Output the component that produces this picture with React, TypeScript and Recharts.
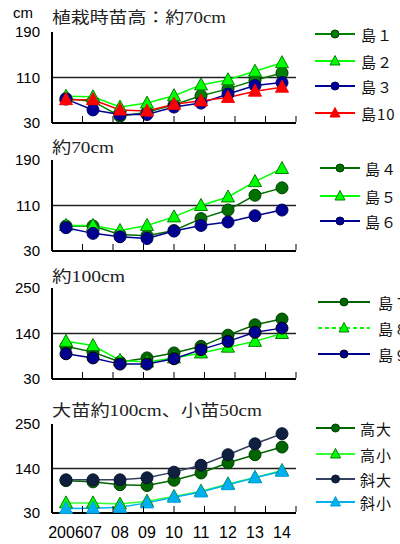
import React from 'react';
import { LineChart, Line, XAxis, YAxis, ReferenceLine, ReferenceArea } from 'recharts';

const years = ['2006', '07', '08', '09', '10', '11', '12', '13', '14'];
const boundaryTicks = [1, 2, 3, 4, 5, 6, 7, 8];

const ticksSmall = [30, 110, 190];
const ticksLarge = [30, 140, 250];

// 植栽時苗高：約70cm
const shima1 = [73, 68, 42, 49, 62, 78, 90, 105, 118];
const shima2 = [77, 76, 58, 65, 78, 97, 106, 121, 136];
const shima3 = [72, 53, 45, 45, 58, 65, 81, 96, 101];
const shima10 = [71, 71, 53, 51, 63, 69, 75, 86, 93];

// 約70cm
const shima4 = [74, 74, 59, 57, 66, 87, 102, 128, 141];
const shima5 = [75, 75, 66, 75, 90, 110, 125, 152, 175];
const shima6 = [71, 61, 55, 52, 65, 75, 81, 92, 102];

// 約100cm
const shima7 = [109, 95, 71, 81, 93, 109, 136, 161, 175];
const shima8 = [121, 111, 75, 71, 81, 93, 107, 121, 140];
const shima9 = [91, 81, 66, 66, 79, 101, 121, 143, 153];

// 大苗約100cm、小苗50cm
const takaDai = [110, 107, 100, 98, 111, 129, 154, 174, 193];
const takaSho = [55, 55, 52, 59, 71, 84, 102, 118, 135];
const nanameDai = [112, 112, 112, 117, 131, 148, 174, 201, 226];
const nanameSho = [41, 42, 44, 55, 69, 82, 100, 117, 133];

type Series = {
  key: string;
  name: string;
  values: number[];
  line: string;
  fill: string;
  stroke: string;
  shape: 'circle' | 'triangle';
  dashed?: boolean;
};

const panel1: Series[] = [
  { key: 's1', name: '島１', values: shima1, line: '#008000', fill: '#008000', stroke: '#003300', shape: 'circle' },
  { key: 's2', name: '島２', values: shima2, line: '#00ff00', fill: '#00ff00', stroke: '#008000', shape: 'triangle' },
  { key: 's3', name: '島３', values: shima3, line: '#000099', fill: '#000099', stroke: '#000066', shape: 'circle' },
  { key: 's10', name: '島10', values: shima10, line: '#ff0000', fill: '#ff0000', stroke: '#ff0000', shape: 'triangle' },
];
const panel2: Series[] = [
  { key: 's4', name: '島４', values: shima4, line: '#007000', fill: '#007000', stroke: '#004000', shape: 'circle' },
  { key: 's5', name: '島５', values: shima5, line: '#00ff00', fill: '#00ff00', stroke: '#008000', shape: 'triangle' },
  { key: 's6', name: '島６', values: shima6, line: '#000090', fill: '#000090', stroke: '#000060', shape: 'circle' },
];
const panel3: Series[] = [
  { key: 's7', name: '島７', values: shima7, line: '#006400', fill: '#006400', stroke: '#004000', shape: 'circle' },
  { key: 's8', name: '島８', values: shima8, line: '#00ff00', fill: '#00ff00', stroke: '#008000', shape: 'triangle', dashed: true },
  { key: 's9', name: '島９', values: shima9, line: '#000090', fill: '#000090', stroke: '#000000', shape: 'circle' },
];
const panel4: Series[] = [
  { key: 'td', name: '高大', values: takaDai, line: '#006600', fill: '#006600', stroke: '#004000', shape: 'circle' },
  { key: 'ts', name: '高小', values: takaSho, line: '#33ff33', fill: '#00ff00', stroke: '#008000', shape: 'triangle' },
  { key: 'nd', name: '斜大', values: nanameDai, line: '#33425e', fill: '#0f1f3f', stroke: '#0a1530', shape: 'circle' },
  { key: 'ns', name: '斜小', values: nanameSho, line: '#00b0f0', fill: '#00b0f0', stroke: '#00a0e0', shape: 'triangle' },
];

const sansFont = "'Liberation Sans', Arial, sans-serif";
const jpFont = "'Noto Sans CJK JP', sans-serif";
const titleFont = "'Liberation Serif', 'Noto Sans CJK JP', serif";

const makeDot = (s: Series, small = false) => (props: any) => {
  const { cx, cy, index } = props;
  const k = `${s.key}-${index}`;
  if (cx == null || cy == null) return <g key={k} />;
  if (s.shape === 'triangle') {
    const w = small ? 5 : 6.5;
    const up = small ? 5.5 : 7;
    const down = small ? 4 : 5;
    return (
      <polygon
        key={k}
        points={`${cx},${cy - up} ${cx - w},${cy + down} ${cx + w},${cy + down}`}
        fill={s.fill}
        stroke={s.stroke}
        strokeWidth={1}
      />
    );
  }
  return <circle key={k} cx={cx} cy={cy} r={small ? 4 : 6} fill={s.fill} stroke={s.stroke} strokeWidth={1} />;
};

// short inward tick marks between the year columns
const InnerTick = (p: any) => (
  <line key={`t-${p.index}`} x1={p.x} x2={p.x} y1={p.y - 1} y2={p.y - 7} stroke="#000" strokeWidth={1} />
);

interface PanelProps {
  top: number;
  plotH: number;
  ticks: number[];
  series: Series[];
  xLabels?: boolean;
}

const Panel: React.FC<PanelProps> = ({ top, plotH, ticks, series, xLabels }) => {
  const data = years.map((y, i) => {
    const row: any = { year: y };
    series.forEach((s) => {
      row[s.key] = s.values[i];
    });
    return row;
  });
  const bottom = xLabels ? 0 : 8;
  const height = 20 + plotH + (xLabels ? 30 : 8);

  return (
    <div style={{ position: 'absolute', left: 0, top }}>
      <LineChart width={400} height={height} data={data} margin={{ top: 20, right: 104, bottom, left: 0 }}>
        <XAxis
          xAxisId="grid"
          type="number"
          domain={[0, 9]}
          ticks={boundaryTicks}
          allowDataOverflow
          mirror
          tick={InnerTick}
          tickLine={false}
          tickSize={0}
          tickMargin={0}
          height={1}
          axisLine={false}
        />
        <XAxis
          xAxisId="cat"
          dataKey="year"
          hide={!xLabels}
          interval={0}
          padding={{ left: 14, right: 14 }}
          axisLine={{ stroke: '#000', strokeWidth: 2 }}
          tickLine={false}
          tickMargin={8}
          height={xLabels ? 30 : 0}
          tick={{ fontSize: 16, fill: '#000', fontFamily: sansFont }}
        />
        <YAxis
          domain={[ticks[0], ticks[2]]}
          ticks={ticks}
          interval={0}
          width={52}
          tickLine={false}
          tickSize={6}
          tickMargin={6}
          axisLine={{ stroke: '#000', strokeWidth: 2 }}
          tick={{ fontSize: 15, fill: '#000', fontFamily: sansFont }}
        />
        <ReferenceArea
          xAxisId="grid"
          x1={0}
          x2={9}
          y1={ticks[0]}
          y2={ticks[2]}
          fill="none"
          stroke="#000"
          strokeWidth={1.5}
        />
        <ReferenceLine xAxisId="grid" y={ticks[0]} stroke="#000" strokeWidth={2} />
        <ReferenceLine xAxisId="grid" y={ticks[1]} stroke="#222" strokeWidth={1.5} />
        {series.map((s) => (
          <Line
            key={s.key}
            xAxisId="cat"
            dataKey={s.key}
            name={s.name}
            stroke={s.line}
            strokeWidth={1.5}
            dot={makeDot(s)}
            activeDot={false}
            isAnimationActive={false}
          />
        ))}
      </LineChart>
    </div>
  );
};

interface LegendBox {
  x1: number;
  x2: number;
  labelX: number;
  rows: number[];
  series: Series[];
}

const legends: LegendBox[] = [
  { x1: 315, x2: 355, labelX: 361, rows: [34, 61, 86, 113], series: panel1 },
  { x1: 320, x2: 360, labelX: 365, rows: [168, 196, 221], series: panel2 },
  { x1: 318, x2: 370, labelX: 378, rows: [302, 328, 354], series: panel3 },
  { x1: 316, x2: 355, labelX: 360, rows: [428, 454, 479, 502], series: panel4 },
];

const titles = [
  { text: '植栽時苗高：約70cm', y: 17, w: 174 },
  { text: '約70cm', y: 147, w: 62 },
  { text: '約100cm', y: 276, w: 73 },
  { text: '大苗約100cm、小苗50cm', y: 410, w: 210 },
];

export default function App() {
  return (
    <div style={{ position: 'absolute', left: 0, top: 0, width: 400, height: 544, background: '#fff', overflow: 'hidden' }}>
      <Panel top={12} plotH={91} ticks={ticksSmall} series={panel1} />
      <Panel top={140} plotH={91} ticks={ticksSmall} series={panel2} />
      <Panel top={268} plotH={91} ticks={ticksLarge} series={panel3} />
      <Panel top={404} plotH={89} ticks={ticksLarge} series={panel4} xLabels />
      <svg width={400} height={544} style={{ position: 'absolute', left: 0, top: 0, pointerEvents: 'none' }}>
        <text x={13} y={12} fontSize={15} fontFamily={sansFont} dominantBaseline="central" fill="#000">
          cm
        </text>
        {titles.map((t) => (
          <text
            key={t.text}
            x={52}
            y={t.y}
            fontSize={16}
            fontFamily={titleFont}
            dominantBaseline="central"
            textLength={t.w}
            lengthAdjust="spacingAndGlyphs"
            fill="#222"
          >
            {t.text}
          </text>
        ))}
        {legends.map((lg, li) =>
          lg.series.map((s, i) => {
            const y = lg.rows[i];
            const mid = (lg.x1 + lg.x2) / 2;
            return (
              <g key={`${li}-${s.key}`}>
                <line
                  x1={lg.x1}
                  x2={lg.x2}
                  y1={y}
                  y2={y}
                  stroke={s.line}
                  strokeWidth={2}
                  strokeDasharray={s.dashed ? '4 3' : undefined}
                />
                {makeDot(s, true)({ cx: mid, cy: y, index: 'lg' })}
                <text
                  x={lg.labelX}
                  y={y}
                  fontSize={15}
                  fontFamily={jpFont}
                  dominantBaseline="central"
                  letterSpacing={1}
                  fill="#111"
                >
                  {s.name}
                </text>
              </g>
            );
          })
        )}
      </svg>
    </div>
  );
}
